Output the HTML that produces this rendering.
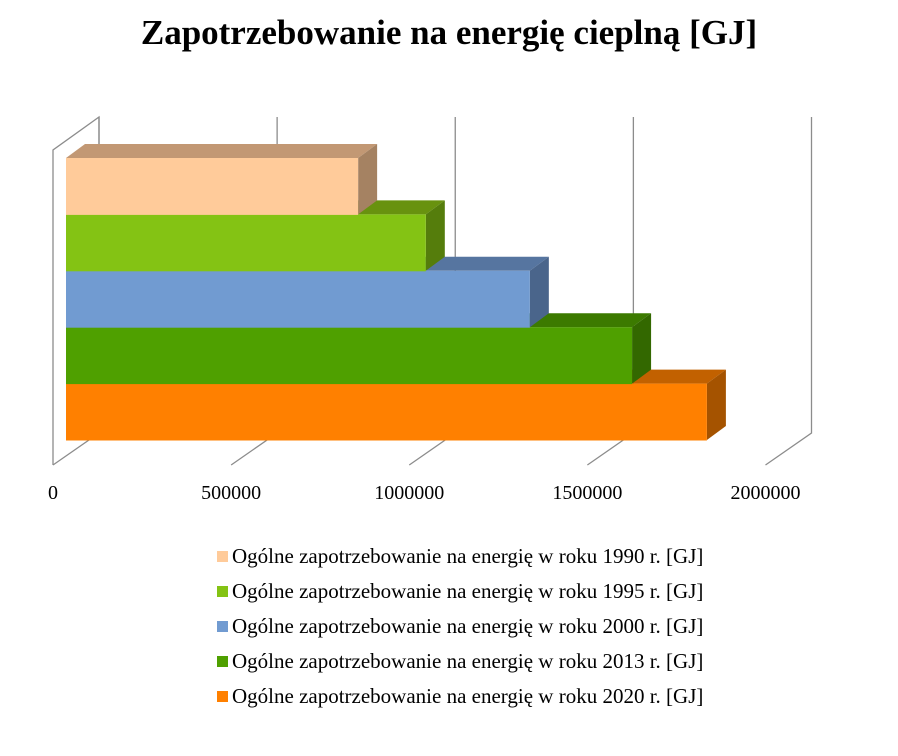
<!DOCTYPE html>
<html><head><meta charset="utf-8"><style>
body{margin:0;background:#fff;}
svg{display:block;font-family:"Liberation Serif",serif;}
</style></head><body>
<svg width="898" height="756" id="chart">
<text x="449" y="44" text-anchor="middle" font-size="35" font-weight="bold">Zapotrzebowanie na energię cieplną [GJ]</text>
<g id="grid"></g>
<g id="bars"></g>
<g id="legend"></g>
</svg>
<script>
const categories=["Ogólne zapotrzebowanie na energię w roku 1990 r. [GJ]","Ogólne zapotrzebowanie na energię w roku 1995 r. [GJ]","Ogólne zapotrzebowanie na energię w roku 2000 r. [GJ]","Ogólne zapotrzebowanie na energię w roku 2013 r. [GJ]","Ogólne zapotrzebowanie na energię w roku 2020 r. [GJ]"];
const values=[820000,1010000,1302000,1589000,1799000];
const ticks=[0,500000,1000000,1500000,2000000];
const front=["#ffcb9a","#84c314","#719bd1","#4fa000","#ff8000"];
const topc=["#c29874","#68920f","#5675a0","#3c7a00","#c26100"];
const side=["#a58262","#557d0c","#4a658b","#336800","#a55300"];
const NS="http://www.w3.org/2000/svg";
const scale=356.25/1e6, DX=19, DY=14, DX2=46, DY2=32;
const fx=v=>53+v*scale;
const bx=v=>66+v*scale;
function mk(tag,attrs,parent){const e=document.createElementNS(NS,tag);for(const k in attrs)e.setAttribute(k,attrs[k]);parent.appendChild(e);return e;}
const grid=document.getElementById('grid');
const ln={stroke:"#8c8c8c","stroke-width":1.3,fill:"none"};
let w=mk('polyline',Object.assign({points:`53,465 53,150 ${53+DX2},117 ${53+DX2},433`},ln),grid);


ticks.forEach((t,i)=>{
  const x=fx(t);
  const g=mk('polyline',Object.assign({points:`${x},465 ${x+DX2},433 ${x+DX2},117`},ln),grid);
  
  
  const tx=mk('text',{x:x,y:499,"font-size":20,"text-anchor":"middle"},grid);
  tx.textContent=t;
  
  
});
const bars=document.getElementById('bars');
const y0=158, bh=56.4;
for(let i=values.length-1;i>=0;i--){
  const v=values[i];
  const y=y0+i*bh, x0=66, x1=bx(v);
  const g=mk('g',{},bars);
  
  
  mk('polygon',{points:`${x0},${y} ${x0+DX},${y-DY} ${x1+DX},${y-DY} ${x1},${y}`,fill:topc[i]},g);
  mk('polygon',{points:`${x1},${y} ${x1+DX},${y-DY} ${x1+DX},${y+bh-DY} ${x1},${y+bh}`,fill:side[i]},g);
  mk('rect',{x:x0,y:y,width:x1-x0,height:bh+0.5,fill:front[i]},g);
}
const legend=document.getElementById('legend');
categories.forEach((c,i)=>{
  const y=557+i*35;
  const g=mk('g',{},legend);
  
  
  mk('rect',{x:217,y:y-6,width:11,height:11,fill:front[i]},g);
  const t=mk('text',{x:232,y:y+6,"font-size":21},g);
  t.textContent=c;
});
</script>
</body></html>
